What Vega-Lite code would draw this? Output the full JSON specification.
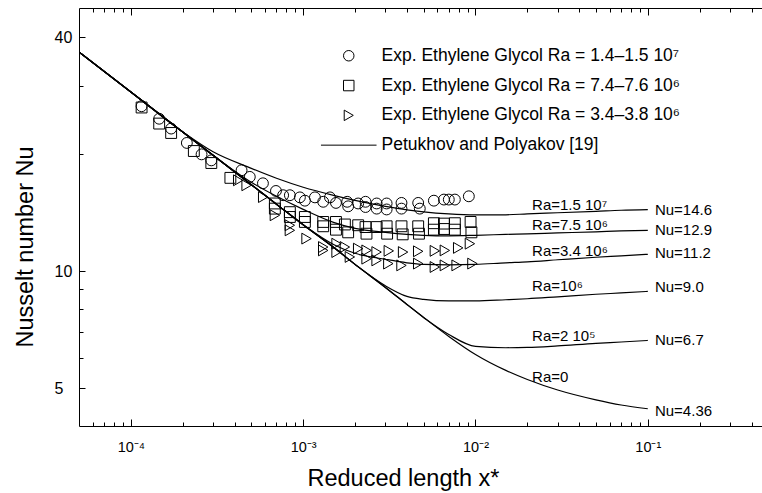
{
  "$schema": "https://vega.github.io/schema/vega-lite/v6.json",
  "width": 683,
  "height": 418,
  "autosize": {"type": "none"},
  "padding": {"left": 79, "top": 8, "right": 0, "bottom": 67},
  "background": "white",
  "config": {
    "view": {"stroke": null},
    "font": "Liberation Sans",
    "axis": {"grid": false, "domainColor": "black", "domainWidth": 1, "tickColor": "black", "tickWidth": 1, "labelColor": "black", "titleColor": "black", "labelFont": "Liberation Sans", "titleFont": "Liberation Sans", "titleFontWeight": "normal"}
  },
  "datasets": {
    "curves": [
      {"ra": "0", "x": 5e-5, "nu": 36.68}, {"ra": "0", "x": 1e-4, "nu": 28.94}, {"ra": "0", "x": 2e-4, "nu": 22.84}, {"ra": "0", "x": 3e-4, "nu": 19.89}, {"ra": "0", "x": 5e-4, "nu": 16.71}, {"ra": "0", "x": 7e-4, "nu": 14.89}, {"ra": "0", "x": 1e-3, "nu": 13.18}, {"ra": "0", "x": 1.5e-3, "nu": 11.53}, {"ra": "0", "x": 2e-3, "nu": 10.42}, {"ra": "0", "x": 3e-3, "nu": 9.09}, {"ra": "0", "x": 4e-3, "nu": 8.22}, {"ra": "0", "x": 5e-3, "nu": 7.61}, {"ra": "0", "x": 7e-3, "nu": 6.80}, {"ra": "0", "x": 1e-2, "nu": 6.11}, {"ra": "0", "x": 1.5e-2, "nu": 5.56}, {"ra": "0", "x": 2e-2, "nu": 5.27}, {"ra": "0", "x": 3e-2, "nu": 4.95}, {"ra": "0", "x": 5e-2, "nu": 4.67}, {"ra": "0", "x": 7e-2, "nu": 4.53}, {"ra": "0", "x": 1e-1, "nu": 4.43},
      {"ra": "2e5", "x": 5e-5, "nu": 36.68}, {"ra": "2e5", "x": 1e-4, "nu": 28.94}, {"ra": "2e5", "x": 2e-4, "nu": 22.84}, {"ra": "2e5", "x": 3e-4, "nu": 19.89}, {"ra": "2e5", "x": 5e-4, "nu": 16.71}, {"ra": "2e5", "x": 7e-4, "nu": 14.89}, {"ra": "2e5", "x": 1e-3, "nu": 13.18}, {"ra": "2e5", "x": 1.5e-3, "nu": 11.53}, {"ra": "2e5", "x": 2e-3, "nu": 10.42}, {"ra": "2e5", "x": 3e-3, "nu": 9.09}, {"ra": "2e5", "x": 4e-3, "nu": 8.22}, {"ra": "2e5", "x": 5e-3, "nu": 7.61}, {"ra": "2e5", "x": 7e-3, "nu": 6.88}, {"ra": "2e5", "x": 1e-2, "nu": 6.41}, {"ra": "2e5", "x": 1.5e-2, "nu": 6.36}, {"ra": "2e5", "x": 2e-2, "nu": 6.37}, {"ra": "2e5", "x": 3e-2, "nu": 6.43}, {"ra": "2e5", "x": 5e-2, "nu": 6.53}, {"ra": "2e5", "x": 7e-2, "nu": 6.58}, {"ra": "2e5", "x": 1e-1, "nu": 6.64},
      {"ra": "1e6", "x": 5e-5, "nu": 36.68}, {"ra": "1e6", "x": 1e-4, "nu": 28.94}, {"ra": "1e6", "x": 2e-4, "nu": 22.84}, {"ra": "1e6", "x": 3e-4, "nu": 19.89}, {"ra": "1e6", "x": 5e-4, "nu": 16.71}, {"ra": "1e6", "x": 7e-4, "nu": 14.89}, {"ra": "1e6", "x": 1e-3, "nu": 13.18}, {"ra": "1e6", "x": 1.5e-3, "nu": 11.53}, {"ra": "1e6", "x": 2e-3, "nu": 10.42}, {"ra": "1e6", "x": 3e-3, "nu": 9.18}, {"ra": "1e6", "x": 4e-3, "nu": 8.62}, {"ra": "1e6", "x": 5e-3, "nu": 8.47}, {"ra": "1e6", "x": 7e-3, "nu": 8.39}, {"ra": "1e6", "x": 1e-2, "nu": 8.39}, {"ra": "1e6", "x": 1.5e-2, "nu": 8.45}, {"ra": "1e6", "x": 2e-2, "nu": 8.50}, {"ra": "1e6", "x": 3e-2, "nu": 8.60}, {"ra": "1e6", "x": 5e-2, "nu": 8.73}, {"ra": "1e6", "x": 7e-2, "nu": 8.80}, {"ra": "1e6", "x": 1e-1, "nu": 8.88},
      {"ra": "3.4e6", "x": 5e-5, "nu": 36.68}, {"ra": "3.4e6", "x": 1e-4, "nu": 28.94}, {"ra": "3.4e6", "x": 2e-4, "nu": 22.84}, {"ra": "3.4e6", "x": 3e-4, "nu": 19.89}, {"ra": "3.4e6", "x": 5e-4, "nu": 16.71}, {"ra": "3.4e6", "x": 7e-4, "nu": 14.89}, {"ra": "3.4e6", "x": 1e-3, "nu": 13.18}, {"ra": "3.4e6", "x": 1.5e-3, "nu": 11.73}, {"ra": "3.4e6", "x": 2e-3, "nu": 11.13}, {"ra": "3.4e6", "x": 3e-3, "nu": 10.74}, {"ra": "3.4e6", "x": 4e-3, "nu": 10.52}, {"ra": "3.4e6", "x": 5e-3, "nu": 10.42}, {"ra": "3.4e6", "x": 7e-3, "nu": 10.39}, {"ra": "3.4e6", "x": 1e-2, "nu": 10.42}, {"ra": "3.4e6", "x": 1.5e-2, "nu": 10.52}, {"ra": "3.4e6", "x": 2e-2, "nu": 10.58}, {"ra": "3.4e6", "x": 3e-2, "nu": 10.71}, {"ra": "3.4e6", "x": 5e-2, "nu": 10.87}, {"ra": "3.4e6", "x": 7e-2, "nu": 10.96}, {"ra": "3.4e6", "x": 1e-1, "nu": 11.06},
      {"ra": "7.5e6", "x": 5e-5, "nu": 36.68}, {"ra": "7.5e6", "x": 1e-4, "nu": 28.94}, {"ra": "7.5e6", "x": 2e-4, "nu": 22.84}, {"ra": "7.5e6", "x": 3e-4, "nu": 19.89}, {"ra": "7.5e6", "x": 5e-4, "nu": 16.95}, {"ra": "7.5e6", "x": 7e-4, "nu": 15.6}, {"ra": "7.5e6", "x": 1e-3, "nu": 14.44}, {"ra": "7.5e6", "x": 1.5e-3, "nu": 13.37}, {"ra": "7.5e6", "x": 2e-3, "nu": 12.9}, {"ra": "7.5e6", "x": 3e-3, "nu": 12.6}, {"ra": "7.5e6", "x": 4e-3, "nu": 12.45}, {"ra": "7.5e6", "x": 5e-3, "nu": 12.38}, {"ra": "7.5e6", "x": 7e-3, "nu": 12.34}, {"ra": "7.5e6", "x": 1e-2, "nu": 12.38}, {"ra": "7.5e6", "x": 1.5e-2, "nu": 12.45}, {"ra": "7.5e6", "x": 2e-2, "nu": 12.49}, {"ra": "7.5e6", "x": 3e-2, "nu": 12.56}, {"ra": "7.5e6", "x": 5e-2, "nu": 12.64}, {"ra": "7.5e6", "x": 7e-2, "nu": 12.71}, {"ra": "7.5e6", "x": 1e-1, "nu": 12.75},
      {"ra": "1.5e7", "x": 5e-5, "nu": 36.68}, {"ra": "1.5e7", "x": 1e-4, "nu": 28.94}, {"ra": "1.5e7", "x": 2e-4, "nu": 22.84}, {"ra": "1.5e7", "x": 3e-4, "nu": 20.3}, {"ra": "1.5e7", "x": 5e-4, "nu": 18.41}, {"ra": "1.5e7", "x": 7e-4, "nu": 17.36}, {"ra": "1.5e7", "x": 1e-3, "nu": 16.46}, {"ra": "1.5e7", "x": 1.5e-3, "nu": 15.69}, {"ra": "1.5e7", "x": 2e-3, "nu": 15.23}, {"ra": "1.5e7", "x": 3e-3, "nu": 14.70}, {"ra": "1.5e7", "x": 4e-3, "nu": 14.40}, {"ra": "1.5e7", "x": 5e-3, "nu": 14.23}, {"ra": "1.5e7", "x": 7e-3, "nu": 14.06}, {"ra": "1.5e7", "x": 1e-2, "nu": 13.98}, {"ra": "1.5e7", "x": 1.5e-2, "nu": 13.98}, {"ra": "1.5e7", "x": 2e-2, "nu": 14.06}, {"ra": "1.5e7", "x": 3e-2, "nu": 14.15}, {"ra": "1.5e7", "x": 5e-2, "nu": 14.27}, {"ra": "1.5e7", "x": 7e-2, "nu": 14.36}, {"ra": "1.5e7", "x": 1e-1, "nu": 14.41}
    ],
    "points": [
      {"s": "A", "x": 1.154e-4, "nu": 26.6}, {"s": "A", "x": 1.46e-4, "nu": 24.7}, {"s": "A", "x": 1.713e-4, "nu": 23.3}, {"s": "A", "x": 2.113e-4, "nu": 21.4}, {"s": "A", "x": 2.572e-4, "nu": 20.0}, {"s": "A", "x": 2.93e-4, "nu": 19.3}, {"s": "A", "x": 4.39e-4, "nu": 18.2}, {"s": "A", "x": 4.9e-4, "nu": 17.5}, {"s": "A", "x": 5.84e-4, "nu": 16.85}, {"s": "A", "x": 6.95e-4, "nu": 16.1}, {"s": "A", "x": 7.65e-4, "nu": 15.7}, {"s": "A", "x": 8.37e-4, "nu": 15.7}, {"s": "A", "x": 9.57e-4, "nu": 15.5}, {"s": "A", "x": 1.023e-3, "nu": 15.2}, {"s": "A", "x": 1.17e-3, "nu": 15.5}, {"s": "A", "x": 1.307e-3, "nu": 15.1}, {"s": "A", "x": 1.43e-3, "nu": 15.5}, {"s": "A", "x": 1.55e-3, "nu": 15.0}, {"s": "A", "x": 1.8e-3, "nu": 15.1}, {"s": "A", "x": 1.824e-3, "nu": 14.7}, {"s": "A", "x": 2.085e-3, "nu": 14.95}, {"s": "A", "x": 2.3e-3, "nu": 15.1}, {"s": "A", "x": 2.3e-3, "nu": 14.64}, {"s": "A", "x": 2.67e-3, "nu": 14.95}, {"s": "A", "x": 2.67e-3, "nu": 14.5}, {"s": "A", "x": 3.05e-3, "nu": 14.95}, {"s": "A", "x": 3.05e-3, "nu": 14.43}, {"s": "A", "x": 3.72e-3, "nu": 15.0}, {"s": "A", "x": 3.72e-3, "nu": 14.5}, {"s": "A", "x": 4.65e-3, "nu": 15.0}, {"s": "A", "x": 4.75e-3, "nu": 14.5}, {"s": "A", "x": 5.735e-3, "nu": 15.2}, {"s": "A", "x": 6.56e-3, "nu": 15.3}, {"s": "A", "x": 7.0e-3, "nu": 15.3}, {"s": "A", "x": 7.59e-3, "nu": 15.3}, {"s": "A", "x": 9.15e-3, "nu": 15.6},
      {"s": "B", "x": 1.154e-4, "nu": 26.4}, {"s": "B", "x": 1.46e-4, "nu": 24.0}, {"s": "B", "x": 1.713e-4, "nu": 22.7}, {"s": "B", "x": 2.32e-4, "nu": 20.4}, {"s": "B", "x": 2.93e-4, "nu": 19.0}, {"s": "B", "x": 3.78e-4, "nu": 17.4}, {"s": "B", "x": 6.85e-4, "nu": 14.95}, {"s": "B", "x": 6.85e-4, "nu": 14.5}, {"s": "B", "x": 8.37e-4, "nu": 14.2}, {"s": "B", "x": 8.37e-4, "nu": 13.8}, {"s": "B", "x": 1.023e-3, "nu": 13.8}, {"s": "B", "x": 1.023e-3, "nu": 13.4}, {"s": "B", "x": 1.307e-3, "nu": 13.4}, {"s": "B", "x": 1.307e-3, "nu": 13.06}, {"s": "B", "x": 1.55e-3, "nu": 13.4}, {"s": "B", "x": 1.55e-3, "nu": 12.8}, {"s": "B", "x": 1.746e-3, "nu": 13.2}, {"s": "B", "x": 1.824e-3, "nu": 12.6}, {"s": "B", "x": 2.085e-3, "nu": 13.14}, {"s": "B", "x": 2.3e-3, "nu": 13.0}, {"s": "B", "x": 2.33e-3, "nu": 12.5}, {"s": "B", "x": 2.67e-3, "nu": 13.0}, {"s": "B", "x": 3.05e-3, "nu": 13.06}, {"s": "B", "x": 3.07e-3, "nu": 12.5}, {"s": "B", "x": 3.72e-3, "nu": 13.06}, {"s": "B", "x": 3.78e-3, "nu": 12.45}, {"s": "B", "x": 4.65e-3, "nu": 13.06}, {"s": "B", "x": 4.7e-3, "nu": 12.5}, {"s": "B", "x": 5.735e-3, "nu": 13.3}, {"s": "B", "x": 5.735e-3, "nu": 12.8}, {"s": "B", "x": 6.56e-3, "nu": 13.27}, {"s": "B", "x": 6.56e-3, "nu": 12.85}, {"s": "B", "x": 7.59e-3, "nu": 13.3}, {"s": "B", "x": 7.59e-3, "nu": 12.8}, {"s": "B", "x": 9.365e-3, "nu": 13.4}, {"s": "B", "x": 9.47e-3, "nu": 12.6},
      {"s": "C", "x": 4.196e-4, "nu": 17.15}, {"s": "C", "x": 4.695e-4, "nu": 16.65}, {"s": "C", "x": 5.86e-4, "nu": 15.53}, {"s": "C", "x": 6.85e-4, "nu": 13.94}, {"s": "C", "x": 8.37e-4, "nu": 13.14}, {"s": "C", "x": 8.37e-4, "nu": 12.75}, {"s": "C", "x": 1.046e-3, "nu": 12.14}, {"s": "C", "x": 1.307e-3, "nu": 11.55}, {"s": "C", "x": 1.307e-3, "nu": 11.32}, {"s": "C", "x": 1.562e-3, "nu": 11.78}, {"s": "C", "x": 1.562e-3, "nu": 11.21}, {"s": "C", "x": 1.746e-3, "nu": 11.55}, {"s": "C", "x": 1.866e-3, "nu": 10.89}, {"s": "C", "x": 2.085e-3, "nu": 11.44}, {"s": "C", "x": 2.333e-3, "nu": 11.32}, {"s": "C", "x": 2.333e-3, "nu": 10.78}, {"s": "C", "x": 2.667e-3, "nu": 11.21}, {"s": "C", "x": 2.667e-3, "nu": 10.67}, {"s": "C", "x": 3.14e-3, "nu": 11.29}, {"s": "C", "x": 3.12e-3, "nu": 10.47}, {"s": "C", "x": 3.8e-3, "nu": 11.21}, {"s": "C", "x": 3.72e-3, "nu": 10.36}, {"s": "C", "x": 4.65e-3, "nu": 11.26}, {"s": "C", "x": 4.65e-3, "nu": 10.47}, {"s": "C", "x": 5.81e-3, "nu": 11.29}, {"s": "C", "x": 5.81e-3, "nu": 10.26}, {"s": "C", "x": 6.64e-3, "nu": 11.32}, {"s": "C", "x": 6.64e-3, "nu": 10.36}, {"s": "C", "x": 7.935e-3, "nu": 11.49}, {"s": "C", "x": 7.77e-3, "nu": 10.36}, {"s": "C", "x": 9.28e-3, "nu": 11.78}, {"s": "C", "x": 9.6e-3, "nu": 10.47}
    ],
    "labels": [
      {"t": "Ra=1.5 10⁷", "x": 0.0213, "nu": 14.4},
      {"t": "Ra=7.5 10⁶", "x": 0.0213, "nu": 12.79},
      {"t": "Ra=3.4 10⁶", "x": 0.0213, "nu": 10.93},
      {"t": "Ra=10⁶", "x": 0.0213, "nu": 8.88},
      {"t": "Ra=2 10⁵", "x": 0.0213, "nu": 6.6},
      {"t": "Ra=0", "x": 0.0213, "nu": 5.196},
      {"t": "Nu=14.6", "x": 0.11, "nu": 13.94},
      {"t": "Nu=12.9", "x": 0.11, "nu": 12.38},
      {"t": "Nu=11.2", "x": 0.11, "nu": 10.8},
      {"t": "Nu=9.0", "x": 0.11, "nu": 8.83},
      {"t": "Nu=6.7", "x": 0.11, "nu": 6.45},
      {"t": "Nu=4.36", "x": 0.11, "nu": 4.234}
    ]
  },
  "layer": [
    {
      "data": {"name": "curves"},
      "mark": {"type": "line", "color": "black", "strokeWidth": 1.2, "interpolate": "monotone", "clip": true},
      "encoding": {
        "x": {"field": "x", "type": "quantitative", "scale": {"type": "log", "domain": [5e-5, 0.46], "nice": false},
          "axis": {"orient": "bottom",
            "values": [6e-5, 7e-5, 8e-5, 9e-5, 1e-4, 2e-4, 3e-4, 4e-4, 5e-4, 6e-4, 7e-4, 8e-4, 9e-4, 1e-3, 2e-3, 3e-3, 4e-3, 5e-3, 6e-3, 7e-3, 8e-3, 9e-3, 1e-2, 2e-2, 3e-2, 4e-2, 5e-2, 6e-2, 7e-2, 8e-2, 9e-2, 1e-1, 2e-1, 3e-1, 4e-1],
            "labelExpr": "datum.value == 0.0001 ? '10⁻⁴' : datum.value == 0.001 ? '10⁻³' : datum.value == 0.01 ? '10⁻²' : datum.value == 0.1 ? '10⁻¹' : ''",
            "tickSize": {"condition": {"test": "datum.value == 0.0001 || datum.value == 0.001 || datum.value == 0.01 || datum.value == 0.1", "value": -7}, "value": -4},
            "labelPadding": 21, "labelFontSize": 14.5, "labelBaseline": "top", "labelAlign": "center",
            "labelFlush": false, "labelOverlap": false, "labelBound": false,
            "title": "Reduced length x*", "titleFontSize": 23.5, "titleX": 324, "titleY": 59, "titleBaseline": "alphabetic", "titleAlign": "center"}},
        "y": {"field": "nu", "type": "quantitative", "scale": {"type": "log", "domain": [4, 47.6], "nice": false},
          "axis": {"orient": "left", "values": [5, 6, 7, 8, 9, 10, 20, 30, 40],
            "labelExpr": "datum.value == 5 ? '5' : datum.value == 10 ? '10' : datum.value == 40 ? '40' : ''",
            "tickSize": {"condition": {"test": "datum.value == 5 || datum.value == 10 || datum.value == 40", "value": -6}, "value": -4},
            "labelAlign": "left", "labelBaseline": "middle", "labelPadding": 31, "labelFontSize": 16,
            "labelOverlap": false, "labelFlush": false, "labelBound": false,
            "title": "Nusselt number Nu", "titleFontSize": 23.5, "titleX": -47, "titleY": 238.5, "titleAngle": -90, "titleBaseline": "alphabetic", "titleAlign": "center"}},
        "detail": {"field": "ra", "type": "nominal"}
      }
    },
    {
      "data": {"name": "points"},
      "mark": {"type": "point", "filled": false, "color": "black", "size": 118, "strokeWidth": 1, "opacity": 1, "clip": true},
      "encoding": {
        "x": {"field": "x", "type": "quantitative", "scale": {"type": "log", "domain": [5e-5, 0.46], "nice": false},
          "axis": {"orient": "top",
            "values": [6e-5, 7e-5, 8e-5, 9e-5, 1e-4, 2e-4, 3e-4, 4e-4, 5e-4, 6e-4, 7e-4, 8e-4, 9e-4, 1e-3, 2e-3, 3e-3, 4e-3, 5e-3, 6e-3, 7e-3, 8e-3, 9e-3, 1e-2, 2e-2, 3e-2, 4e-2, 5e-2, 6e-2, 7e-2, 8e-2, 9e-2, 1e-1, 2e-1, 3e-1, 4e-1],
            "labels": false,
            "tickSize": {"condition": {"test": "datum.value == 0.0001 || datum.value == 0.001 || datum.value == 0.01 || datum.value == 0.1", "value": -7}, "value": -4},
            "title": null}},
        "y": {"field": "nu", "type": "quantitative", "scale": {"type": "log", "domain": [4, 47.6], "nice": false}, "axis": null},
        "shape": {"field": "s", "type": "nominal",
          "scale": {"domain": ["A", "B", "C", "P"], "range": ["circle", "square", "triangle-right", "M-5.3,0L5.3,0"]},
          "legend": {"orient": "none", "legendX": 261, "legendY": 39, "title": null,
            "labelExpr": "datum.label == 'A' ? 'Exp. Ethylene Glycol Ra = 1.4–1.5 10⁷' : datum.label == 'B' ? 'Exp. Ethylene Glycol Ra = 7.4–7.6 10⁶' : datum.label == 'C' ? 'Exp. Ethylene Glycol Ra = 3.4–3.8 10⁶' : 'Petukhov and Polyakov [19]'",
            "labelFont": "Liberation Sans", "labelFontSize": 17.5, "labelColor": "black", "labelLimit": 600, "labelOffset": 24,
            "rowPadding": 10.8, "padding": 0, "symbolSize": 110, "symbolStrokeWidth": 1, "symbolStrokeColor": "black", "symbolFillColor": "transparent"}}
      }
    },
    {
      "data": {"name": "labels"},
      "mark": {"type": "text", "align": "left", "baseline": "alphabetic", "fontSize": 15, "font": "Liberation Sans", "color": "black"},
      "encoding": {
        "x": {"field": "x", "type": "quantitative", "scale": {"type": "log", "domain": [5e-5, 0.46], "nice": false}, "axis": null},
        "y": {"field": "nu", "type": "quantitative", "scale": {"type": "log", "domain": [4, 47.6], "nice": false}, "axis": null},
        "text": {"field": "t", "type": "nominal"}
      }
    }
  ],
  "resolve": {"axis": {"x": "independent", "y": "independent"}}
}
